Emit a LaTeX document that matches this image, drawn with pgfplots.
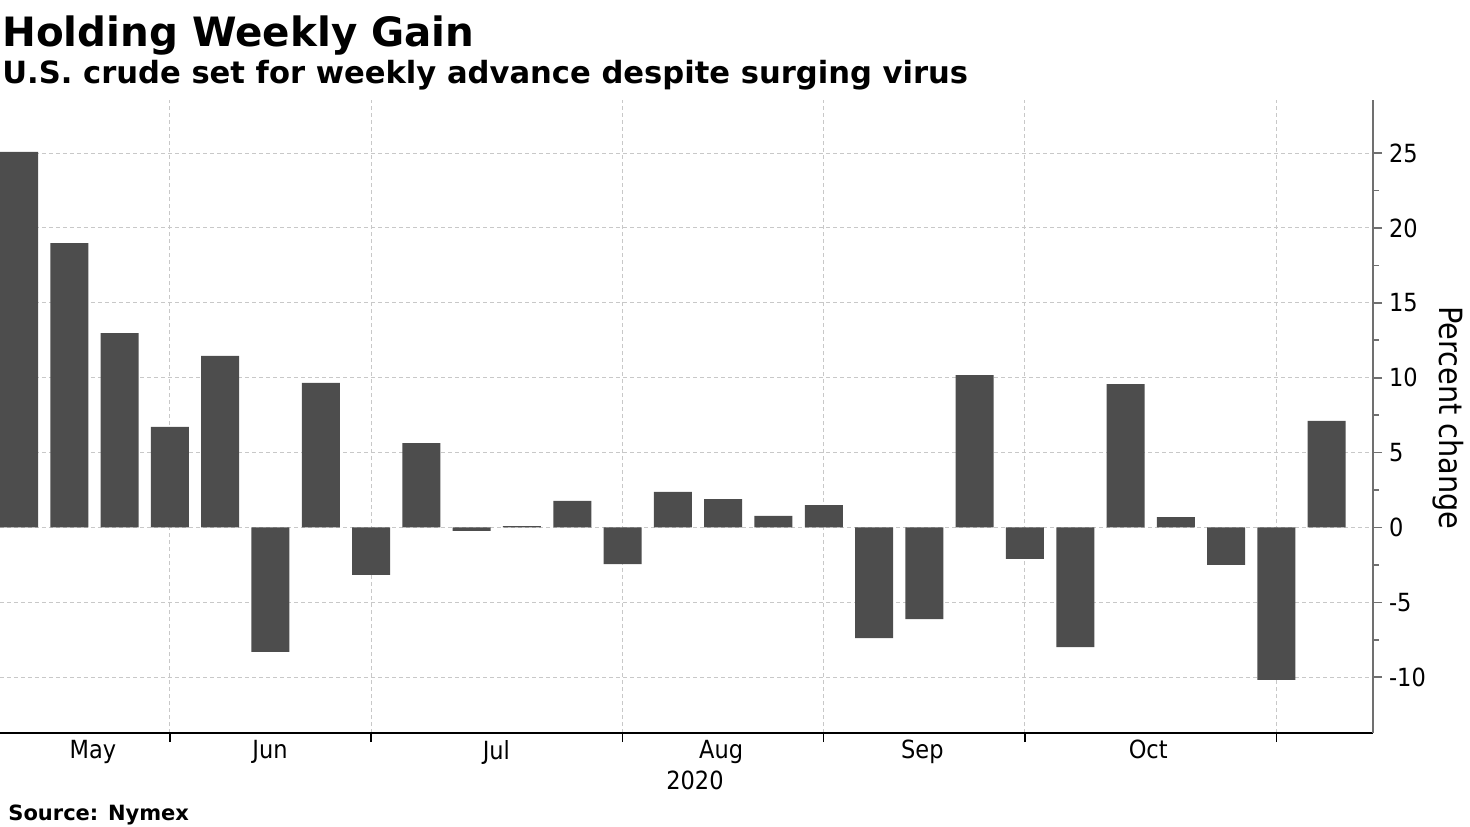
\documentclass[border=0pt]{standalone}
\usepackage{pgfplots}
\pgfplotsset{compat=1.18}
\usepackage{pgfplotstable}
\usepackage{fontspec}
\setmainfont{DejaVu Sans Condensed}
\newfontfamily\widefont{DejaVu Sans}
\definecolor{barc}{HTML}{4D4D4D}
\definecolor{gridc}{HTML}{C8C8C8}
\definecolor{axc}{HTML}{707070}
\pgfplotstableread{
x y
0 25.07
1 18.99
2 12.98
3 6.71
4 11.45
5 -8.31
6 9.65
7 -3.17
8 5.64
9 -0.23
10 0.10
11 1.77
12 -2.44
13 2.37
14 1.90
15 0.77
16 1.50
17 -7.38
18 -6.11
19 10.18
20 -2.10
21 -7.98
22 9.58
23 0.70
24 -2.50
25 -10.18
26 7.11
}\datatable
\begin{document}
\begin{tikzpicture}
\useasboundingbox (0,-46.5pt) rectangle (735pt,366.5pt);
\begin{axis}[
  width=686.5pt, height=316.5pt, scale only axis,
  xmin=-0.378, xmax=26.92, ymin=-13.72, ymax=28.54,
  axis x line*=bottom, axis y line*=right,
  x axis line style={-, black, line width=0.8pt},
  y axis line style={-, axc, line width=1pt},
  tick align=outside,
  major tick length=4.5pt, minor tick length=3pt,
  xtick={3,7,12,16,20,25}, xticklabels={},
  x tick style={black, line width=0.6pt},
  extra x ticks={1.47,4.99,9.49,13.96,17.96,22.45},
  extra x tick labels={May,Jun,Jul,Aug,Sep,Oct},
  extra x tick style={grid=none, major tick length=0pt, tick style={draw=none}},
  ytick={-10,-5,0,5,10,15,20,25},
  yticklabels={-10,-5,0,5,10,15,20,25},
  minor y tick num=1,
  y tick style={axc, line width=0.8pt},
  ticklabel style={font=\fontsize{12.5}{14}\selectfont, text=black},
  xmajorgrids, ymajorgrids,
  major grid style={gridc, dash pattern=on 2pt off 1.5pt, line width=0.5pt},
  clip=false,
]
\addplot[ybar, bar width=19pt, bar shift=0pt, fill=barc, draw=none] table[x=x,y=y] {\datatable};
\end{axis}
\node[anchor=base west, inner sep=0pt, font=\widefont\fontsize{20.2}{24}\selectfont\bfseries] at (1pt,343pt) {Holding Weekly Gain};
\node[anchor=base west, inner sep=0pt, font=\widefont\fontsize{15.3}{17}\selectfont\bfseries] at (1pt,324.5pt) {U.S. crude set for weekly advance despite surging virus};
\node[anchor=base west, inner sep=0pt, font=\widefont\fontsize{10.5}{12}\selectfont\bfseries] at (4pt,-43.5pt) {Source: Nymex};
\node[inner sep=0pt, font=\fontsize{12.5}{14}\selectfont] at (347.5pt,-23.5pt) {2020};
\node[rotate=-90, inner sep=0pt, font=\fontsize{16}{18}\selectfont] at (724pt,157.5pt) {Percent change};
\end{tikzpicture}
\end{document}
